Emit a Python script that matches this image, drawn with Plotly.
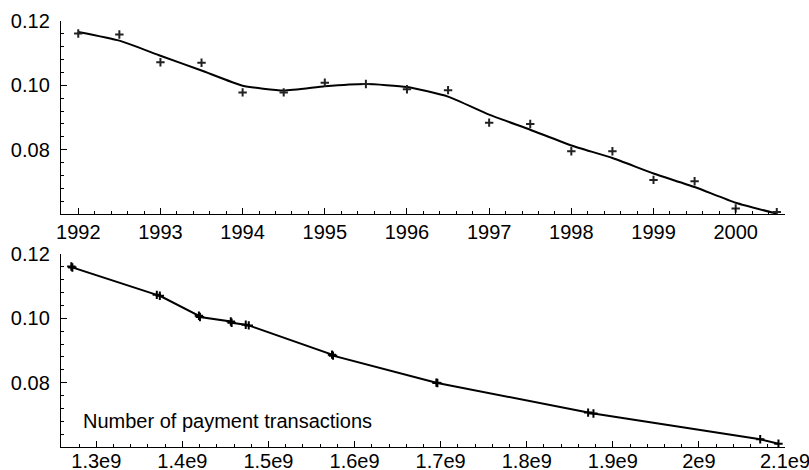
import plotly.graph_objects as go
from plotly.subplots import make_subplots

# Top panel: observed rate by half-year, and fitted trend
years = [1992, 1992.5, 1993, 1993.5, 1994, 1994.5, 1995, 1995.5, 1996, 1996.5,
         1997, 1997.5, 1998, 1998.5, 1999, 1999.5, 2000, 2000.5]
observed = [0.1161, 0.1158, 0.1072, 0.1070, 0.0978, 0.0978, 0.1008, 0.1004, 0.0988, 0.0985,
            0.0884, 0.0880, 0.0795, 0.0795, 0.0706, 0.0702, 0.0617, 0.0606]
trend = [0.1166, 0.1139, 0.1092, 0.1046, 0.0999, 0.0984, 0.0997, 0.1004, 0.0995, 0.0965,
         0.0909, 0.0862, 0.0813, 0.0774, 0.0726, 0.0684, 0.0635, 0.0601]

# Bottom panel: rate against number of payment transactions
transactions = [1.2710e9, 1.2722e9, 1.3703e9, 1.3738e9, 1.4192e9, 1.4204e9, 1.4562e9, 1.4572e9,
                1.4736e9, 1.4771e9, 1.5738e9, 1.5750e9, 1.6950e9, 1.6962e9, 1.8713e9, 1.8775e9,
                2.0712e9, 2.0924e9]
rate = [0.1161, 0.1158, 0.1073, 0.1070, 0.1008, 0.1004, 0.0990, 0.0986, 0.0980, 0.0978,
        0.0887, 0.0884, 0.0800, 0.0799, 0.0707, 0.0704, 0.0624, 0.0610]

year_ticks = [1992, 1993, 1994, 1995, 1996, 1997, 1998, 1999, 2000]
tx_ticks = [1.3e9, 1.4e9, 1.5e9, 1.6e9, 1.7e9, 1.8e9, 1.9e9, 2.0e9, 2.1e9]
tx_labels = ["1.3e9", "1.4e9", "1.5e9", "1.6e9", "1.7e9", "1.8e9", "1.9e9", "2e9", "2.1e9"]
y_ticks = [0.08, 0.10, 0.12]
y_labels = ["0.08", "0.10", "0.12"]
annotation_text = "Number of payment transactions"

FONT = "Liberation Sans, Arial, Helvetica, sans-serif"
FS = 20

fig = make_subplots(rows=2, cols=1, vertical_spacing=0.0938, shared_xaxes=False)

fig.add_trace(go.Scatter(x=years, y=trend, mode="lines",
                         line=dict(color="black", width=2, shape="spline", smoothing=0.5),
                         showlegend=False), row=1, col=1)
fig.add_trace(go.Scatter(x=years, y=observed, mode="markers",
                         marker=dict(symbol="cross-thin", size=6,
                                     line=dict(color="#222222", width=2)),
                         showlegend=False), row=1, col=1)

fig.add_trace(go.Scatter(x=transactions, y=rate, mode="lines+markers",
                         line=dict(color="black", width=2),
                         marker=dict(symbol="cross-thin", size=6,
                                     line=dict(color="black", width=2)),
                         showlegend=False), row=2, col=1)

axis_common = dict(showline=True, linecolor="black", linewidth=1.4, showgrid=False,
                   zeroline=False, ticks="inside", ticklen=6, tickwidth=1.2, tickcolor="black",
                   automargin=False, ticklabeloverflow="allow",
                   tickfont=dict(family=FONT, size=FS, color="black"))

fig.update_xaxes(**axis_common, range=[1991.79, 2000.6], tickvals=year_ticks,
                 minor=dict(dtick=0.2, tick0=1992, ticks="inside", ticklen=3,
                            tickwidth=1, tickcolor="black"),
                 ticklabelstandoff=0, row=1, col=1)
fig.update_xaxes(**axis_common, range=[1.259e9, 2.1e9], tickvals=tx_ticks, ticktext=tx_labels,
                 minor=dict(dtick=0.02e9, tick0=1.3e9, ticks="inside", ticklen=3,
                            tickwidth=1, tickcolor="black"),
                 ticklabelstandoff=-4, row=2, col=1)
for r in (1, 2):
    fig.update_yaxes(**axis_common, range=[0.06, 0.12], tickvals=y_ticks, ticktext=y_labels,
                     minor=dict(dtick=0.004, tick0=0.06, ticks="inside", ticklen=3,
                                tickwidth=1, tickcolor="black"),
                     ticklabelstandoff=6, row=r, col=1)

fig.add_annotation(text=annotation_text, xref="x2 domain", yref="y2 domain",
                   x=0.027, y=0.133, xanchor="left", yanchor="middle", showarrow=False,
                   font=dict(family=FONT, size=FS, color="black"))

fig.update_layout(width=809, height=470, paper_bgcolor="white", plot_bgcolor="white",
                  margin=dict(l=61, r=24, t=21, b=23),
                  font=dict(family=FONT, size=FS, color="black"))

fig.write_html("out.html", config={"displayModeBar": False},
               post_script="document.body.style.margin='0';document.body.style.overflow='hidden';")
